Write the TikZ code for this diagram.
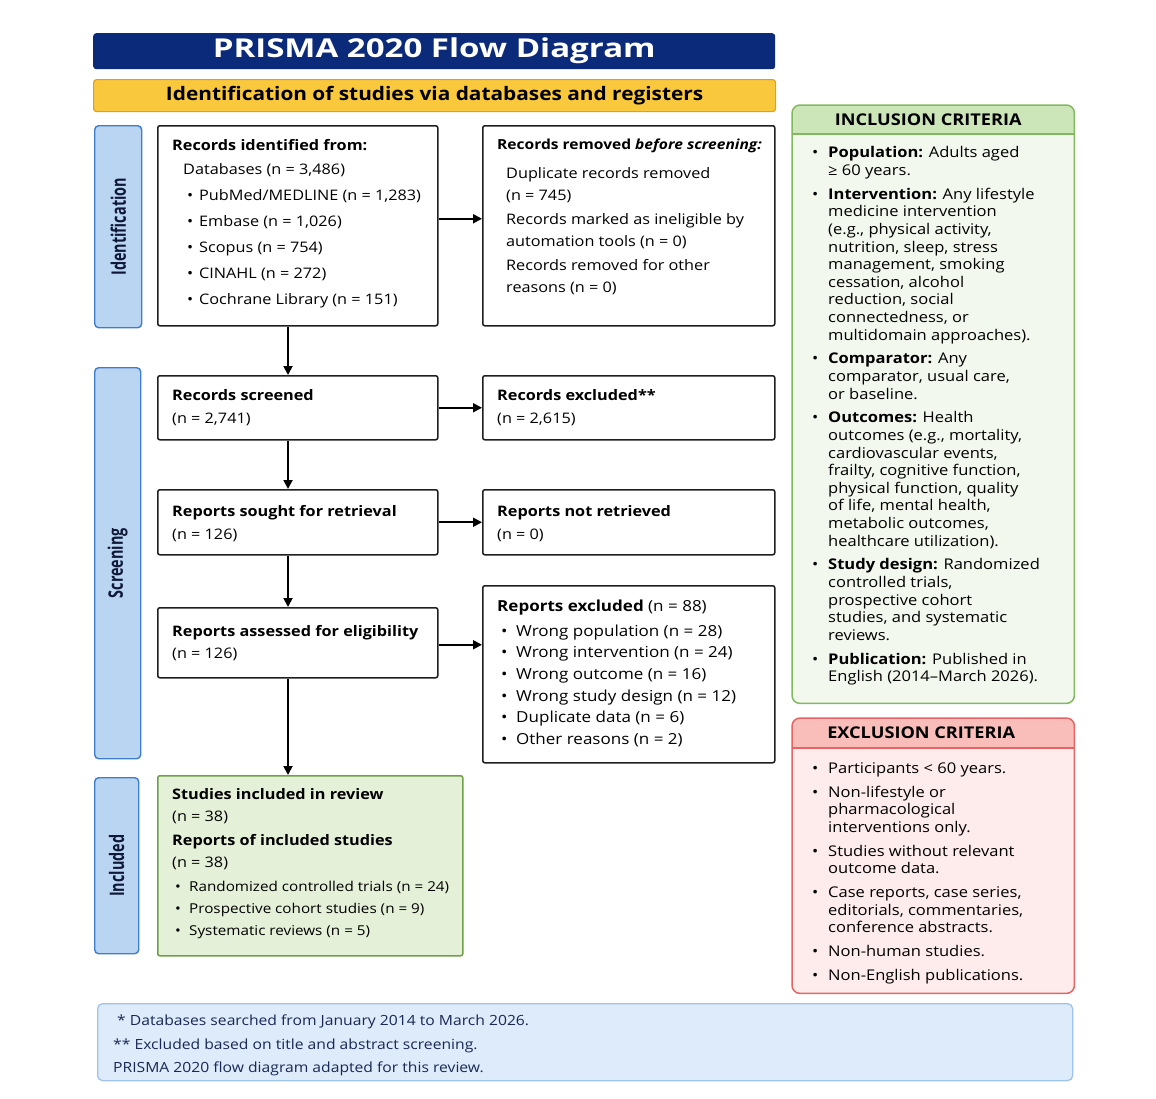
\documentclass[tikz,border=0pt]{standalone}
\usepackage{fontspec}
\setmainfont{Open Sans}[FakeStretch=1.12]
\newfontfamily\widefont[FakeStretch=1.27]{Open Sans}
\newfontfamily\condfont[FakeStretch=0.72]{Open Sans}
\usetikzlibrary{arrows.meta,positioning}

\definecolor{navy}{RGB}{12,42,122}
\definecolor{yelfill}{RGB}{250,200,60}
\definecolor{yeledge}{RGB}{222,160,30}
\definecolor{sidefill}{RGB}{185,213,242}
\definecolor{sideedge}{RGB}{62,125,205}
\definecolor{sidetext}{RGB}{15,25,55}
\definecolor{inclfill}{RGB}{228,240,215}
\definecolor{incledge}{RGB}{110,160,70}
\definecolor{critedge}{RGB}{130,185,95}
\definecolor{crithead}{RGB}{205,230,185}
\definecolor{critbody}{RGB}{242,248,237}
\definecolor{excledge}{RGB}{230,100,100}
\definecolor{exclhead}{RGB}{249,190,185}
\definecolor{exclbody}{RGB}{253,236,235}
\definecolor{footfill}{RGB}{222,235,250}
\definecolor{footedge}{RGB}{160,195,235}
\definecolor{foottext}{RGB}{25,40,85}

\newcommand{\pbul}{\makebox[12pt][l]{\textbullet}}
\newcommand{\cbul}{\makebox[16pt][l]{\textbullet}}
\newcommand{\pind}{\hspace*{16pt}}

\begin{document}
\begin{tikzpicture}[x=1pt, y=-1pt]
	\tikzset{
		box/.style     = {draw=black!88, line width=1.5pt, rounded corners=2pt, fill=white, inner sep=0pt, anchor=north west},
		txt/.style     = {anchor=north west, align=left, inner sep=0pt, font=\fontsize{14.5}{22}\selectfont},
		sidebox/.style = {draw=sideedge, fill=sidefill, line width=1.4pt, rounded corners=4pt, inner sep=0pt, anchor=north west},
		sidetxt/.style = {rotate=90, text=sidetext, font=\condfont\fontsize{20}{22}\selectfont\bfseries},
		crit/.style    = {anchor=north west, align=left, inner sep=0pt, font=\fontsize{14.75}{17.6}\selectfont},
		crithd/.style  = {font=\fontsize{16.2}{18}\selectfont\bfseries},
		arr/.style     = {line width=1.8pt, -{Triangle[length=9pt,width=9pt]}},
	}
	\useasboundingbox (0,0) rectangle (1156,1098);

	% title bars
	\node (title) [fill=navy, rounded corners=3pt, minimum width=682pt, minimum height=36pt, anchor=north west,
		text=white, font=\widefont\fontsize{26}{28}\selectfont\bfseries] at (93,33) {PRISMA 2020 Flow Diagram};
	\node (ident bar) [fill=yelfill, draw=yeledge, line width=1.2pt, rounded corners=3pt, minimum width=682pt, minimum height=32pt,
		anchor=north west, font=\fontsize{18.6}{20}\selectfont\bfseries] at (93,79) {Identification of studies via databases and registers};

	% phase labels
	\node (idside)  [sidebox, minimum width=47pt, minimum height=202pt] at (94,125) {};
	\node (scside)  [sidebox, minimum width=46pt, minimum height=391pt] at (94,367) {};
	\node (inside)  [sidebox, minimum width=44pt, minimum height=176pt] at (94,777) {};
	\node (idlabel) [sidetxt] at (idside)  {Identification};
	\node (sclabel) [sidetxt] at (scside)  {Screening};
	\node (inlabel) [sidetxt] at (inside)  {Included};

	% boxes
	\node (ident)     [box, minimum width=280pt, minimum height=200pt] at (157,125) {};
	\node (removed)   [box, minimum width=292pt, minimum height=200pt] at (482,125) {};
	\node (screened)  [box, minimum width=280pt, minimum height=64pt]  at (157,375) {};
	\node (excluded)  [box, minimum width=292pt, minimum height=64pt]  at (482,375) {};
	\node (sought)    [box, minimum width=280pt, minimum height=65pt]  at (157,489) {};
	\node (notret)    [box, minimum width=292pt, minimum height=65pt]  at (482,489) {};
	\node (assessed)  [box, minimum width=280pt, minimum height=70pt]  at (157,607) {};
	\node (repexcl)   [box, minimum width=292pt, minimum height=177pt] at (482,585) {};
	\node (included)  [box, draw=incledge, fill=inclfill, minimum width=305pt, minimum height=180pt] at (157,775) {};

	% box texts
	\node (ident txt) [txt, font=\fontsize{14.5}{26}\selectfont, below right=14pt and 15pt of ident.north west]
		{\textbf{Records identified from:}\\[-2pt]
		 \hspace*{11pt}Databases (n = 3,486)\\
		 \hspace*{15pt}\pbul PubMed/MEDLINE (n = 1,283)\\
		 \hspace*{15pt}\pbul Embase (n = 1,026)\\
		 \hspace*{15pt}\pbul Scopus (n = 754)\\
		 \hspace*{15pt}\pbul CINAHL (n = 272)\\
		 \hspace*{15pt}\pbul Cochrane Library (n = 151)};
	\node (removed txt) [txt, font=\fontsize{14.5}{21.5}\selectfont, below right=14pt and 15pt of removed.north west]
		{{\fontsize{13.9}{21.5}\selectfont\textbf{Records removed \textit{before screening:}}}\\[7.5pt]
		 \hspace*{9pt}Duplicate records removed\\
		 \hspace*{9pt}(n = 745)\\[3pt]
		 \hspace*{9pt}Records marked as ineligible by\\
		 \hspace*{9pt}automation tools (n = 0)\\[3pt]
		 \hspace*{9pt}Records removed for other\\
		 \hspace*{9pt}reasons (n = 0)};
	\node (screened txt) [txt, font=\fontsize{14.5}{23}\selectfont, below right=14.5pt and 15pt of screened.north west]
		{\textbf{Records screened}\\(n = 2,741)};
	\node (excluded txt) [txt, font=\fontsize{14.5}{23}\selectfont, below right=14.5pt and 15pt of excluded.north west]
		{\textbf{Records excluded**}\\(n = 2,615)};
	\node (sought txt) [txt, font=\fontsize{14.5}{23}\selectfont, below right=16pt and 15pt of sought.north west]
		{\textbf{Reports sought for retrieval}\\(n = 126)};
	\node (notret txt) [txt, font=\fontsize{14.5}{23}\selectfont, below right=16pt and 15pt of notret.north west]
		{\textbf{Reports not retrieved}\\(n = 0)};
	\node (assessed txt) [txt, font=\fontsize{14.5}{22}\selectfont, below right=18pt and 15pt of assessed.north west]
		{\textbf{Reports assessed for eligibility}\\(n = 126)};
	\node (repexcl txt) [txt, font=\fontsize{15.2}{21.6}\selectfont, below right=14.5pt and 15pt of repexcl.north west]
		{\textbf{Reports excluded} (n = 88)\\[3.5pt]
		 \hspace*{4pt}\makebox[15pt][l]{\textbullet}Wrong population (n = 28)\\
		 \hspace*{4pt}\makebox[15pt][l]{\textbullet}Wrong intervention (n = 24)\\
		 \hspace*{4pt}\makebox[15pt][l]{\textbullet}Wrong outcome (n = 16)\\
		 \hspace*{4pt}\makebox[15pt][l]{\textbullet}Wrong study design (n = 12)\\
		 \hspace*{4pt}\makebox[15pt][l]{\textbullet}Duplicate data (n = 6)\\
		 \hspace*{4pt}\makebox[15pt][l]{\textbullet}Other reasons (n = 2)};
	\node (included txt) [txt, font=\fontsize{14.5}{22}\selectfont, below right=13pt and 15pt of included.north west]
		{\textbf{Studies included in review}\\
		 (n = 38)\\[2pt]
		 \textbf{Reports of included studies}\\
		 (n = 38)\\[2pt]
		 {\fontsize{13.6}{22}\selectfont\hspace*{3pt}\makebox[14pt][l]{\textbullet}Randomized controlled trials (n = 24)}\\
		 {\fontsize{13.6}{22}\selectfont\hspace*{3pt}\makebox[14pt][l]{\textbullet}Prospective cohort studies (n = 9)}\\
		 {\fontsize{13.6}{22}\selectfont\hspace*{3pt}\makebox[14pt][l]{\textbullet}Systematic reviews (n = 5)}};

	% arrows
	\coordinate (spine) at (288,0);
	\draw [arr] (ident.south -| spine)    -- (screened.north -| spine);
	\draw [arr] (screened.south -| spine) -- (sought.north -| spine);
	\draw [arr] (sought.south -| spine)   -- (assessed.north -| spine);
	\draw [arr] (assessed.south -| spine) -- (included.north -| spine);
	\draw [arr] ([yshift=7pt]ident.east)  -- ([yshift=7pt]removed.west);
	\draw [arr] (screened.east) -- (excluded.west);
	\draw [arr] (sought.east)   -- (notret.west);
	\draw [arr] ([yshift=-2pt]assessed.east) -- ([yshift=-2pt]assessed.east -| repexcl.west);

	% inclusion criteria
	\node (incl) [fill=critbody, rounded corners=8pt, minimum width=282pt, minimum height=598pt, anchor=north west, inner sep=0pt] at (792,105) {};
	\fill [crithead, rounded corners=8pt] ([yshift=-29pt]incl.north west) -- (incl.north west) -- (incl.north east) [sharp corners] -- ([yshift=-29pt]incl.north east) -- cycle;
	\draw [critedge, line width=1.2pt] ([yshift=-29pt]incl.north west) -- ([yshift=-29pt]incl.north east);
	\draw [critedge, line width=1.5pt, rounded corners=8pt] (incl.north west) rectangle (incl.south east);
	\node (incl head) [crithd] at ([xshift=-5pt,yshift=-15pt]incl.north) {INCLUSION CRITERIA};
	\node (incl txt) [crit, below right=41.5pt and 20pt of incl.north west]
		{\cbul\textbf{Population:} Adults aged\\
		 \pind ≥ 60 years.\\[6.2pt]
		 \cbul\textbf{Intervention:} Any lifestyle\\
		 \pind medicine intervention\\
		 \pind (e.g., physical activity,\\
		 \pind nutrition, sleep, stress\\
		 \pind management, smoking\\
		 \pind cessation, alcohol\\
		 \pind reduction, social\\
		 \pind connectedness, or\\
		 \pind multidomain approaches).\\[6.2pt]
		 \cbul\textbf{Comparator:} Any\\
		 \pind comparator, usual care,\\
		 \pind or baseline.\\[6.2pt]
		 \cbul\textbf{Outcomes:} Health\\
		 \pind outcomes (e.g., mortality,\\
		 \pind cardiovascular events,\\
		 \pind frailty, cognitive function,\\
		 \pind physical function, quality\\
		 \pind of life, mental health,\\
		 \pind metabolic outcomes,\\
		 \pind healthcare utilization).\\[6.2pt]
		 \cbul\textbf{Study design:} Randomized\\
		 \pind controlled trials,\\
		 \pind prospective cohort\\
		 \pind studies, and systematic\\
		 \pind reviews.\\[6.2pt]
		 \cbul\textbf{Publication:} Published in\\
		 \pind English (2014–March 2026).};

	% exclusion criteria
	\node (excl) [fill=exclbody, rounded corners=8pt, minimum width=282pt, minimum height=275pt, anchor=north west, inner sep=0pt] at (792,718) {};
	\fill [exclhead, rounded corners=8pt] ([yshift=-30pt]excl.north west) -- (excl.north west) -- (excl.north east) [sharp corners] -- ([yshift=-30pt]excl.north east) -- cycle;
	\draw [excledge, line width=1.2pt] ([yshift=-30pt]excl.north west) -- ([yshift=-30pt]excl.north east);
	\draw [excledge, line width=1.5pt, rounded corners=8pt] (excl.north west) rectangle (excl.south east);
	\node (excl head) [crithd] at ([xshift=-12pt,yshift=-15pt]excl.north) {EXCLUSION CRITERIA};
	\node (excl txt) [crit, below right=44.5pt and 20pt of excl.north west]
		{\cbul Participants < 60 years.\\[6.2pt]
		 \cbul Non-lifestyle or\\
		 \pind pharmacological\\
		 \pind interventions only.\\[6.2pt]
		 \cbul Studies without relevant\\
		 \pind outcome data.\\[6.2pt]
		 \cbul Case reports, case series,\\
		 \pind editorials, commentaries,\\
		 \pind conference abstracts.\\[6.2pt]
		 \cbul Non-human studies.\\[6.2pt]
		 \cbul Non-English publications.};

	% footnotes
	\node (foot) [fill=footfill, draw=footedge, line width=1.3pt, rounded corners=5pt, minimum width=975pt, minimum height=77pt,
		anchor=north west, inner sep=0pt] at (97,1003) {};
	\node (foot txt) [txt, text=foottext, font=\fontsize{14}{23.5}\selectfont, below right=12pt and 16pt of foot.north west]
		{\hspace*{4pt}* Databases searched from January 2014 to March 2026.\\
		 ** Excluded based on title and abstract screening.\\
		 PRISMA 2020 flow diagram adapted for this review.};
\end{tikzpicture}
\end{document}
